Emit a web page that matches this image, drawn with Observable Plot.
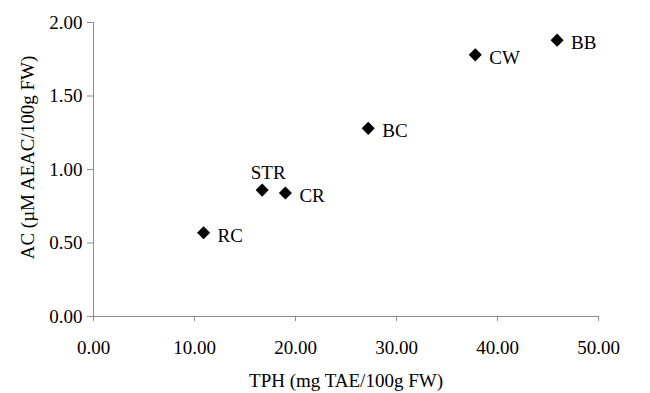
<!DOCTYPE html>
<html>
<head>
<meta charset="utf-8">
<script src="https://cdn.jsdelivr.net/npm/d3@7"></script>
<script src="https://cdn.jsdelivr.net/npm/@observablehq/plot@0.6"></script>
<style>
  html, body { margin: 0; padding: 0; background: #fff; }
  #chart svg { font-family: "Liberation Serif", "Times New Roman", serif; }
</style>
</head>
<body>
<div id="chart"></div>
<script>
// Data
const names = ["RC", "STR", "CR", "BC", "CW", "BB"];
const tph = [10.9, 16.7, 19.0, 27.2, 37.8, 45.9];
const ac = [0.57, 0.86, 0.84, 1.28, 1.78, 1.88];
const xTicks = [0, 10, 20, 30, 40, 50];
const yTicks = [0, 0.5, 1.0, 1.5, 2.0];
const xTitle = "TPH (mg TAE/100g FW)";
const yTitle = "AC (µM AEAC/100g FW)";

const data = names.map((n, i) => ({name: n, x: tph[i], y: ac[i]}));
const fmt = d3.format(".2f");
const axisGray = "#8c8c8c";
const fs = 19;

const chart = Plot.plot({
  width: 650,
  height: 393,
  marginLeft: 93,
  marginRight: 52,
  marginTop: 22,
  marginBottom: 77,
  style: {fontSize: fs + "px", fontFamily: "'Liberation Serif', 'Times New Roman', serif", color: "black", background: "white"},
  x: {domain: [0, 50]},
  y: {domain: [0, 2]},
  marks: [
    Plot.axisX({ticks: xTicks, tickFormat: fmt, tickSize: 5, tickPadding: 19, stroke: axisGray, fill: "black", label: null, fontSize: fs}),
    Plot.axisY({ticks: yTicks, tickFormat: fmt, tickSize: 6, tickPadding: 5, stroke: axisGray, fill: "black", label: null, fontSize: fs}),
    Plot.ruleY([0], {stroke: axisGray}),
    Plot.ruleX([0], {stroke: axisGray}),
    Plot.dot(data, {x: "x", y: "y", symbol: "diamond2", r: 5.9, fill: "black", stroke: "none"}),
    Plot.text(data.filter(d => d.name !== "STR"), {x: "x", y: "y", text: "name", textAnchor: "start", dx: 14, dy: 3, fontSize: fs, fill: "black"}),
    Plot.text(data.filter(d => d.name === "STR"), {x: "x", y: "y", text: "name", textAnchor: "middle", dx: 6, dy: -17, fontSize: fs, fill: "black"}),
    Plot.text([xTitle], {frameAnchor: "bottom", lineAnchor: "middle", textAnchor: "middle", dy: 64, fontSize: fs, fill: "black"}),
    Plot.text([yTitle], {frameAnchor: "left", textAnchor: "middle", lineAnchor: "middle", rotate: -90, dx: -66, dy: -12, fontSize: fs, fill: "black"})
  ]
});
document.getElementById("chart").appendChild(chart);
</script>
</body>
</html>
